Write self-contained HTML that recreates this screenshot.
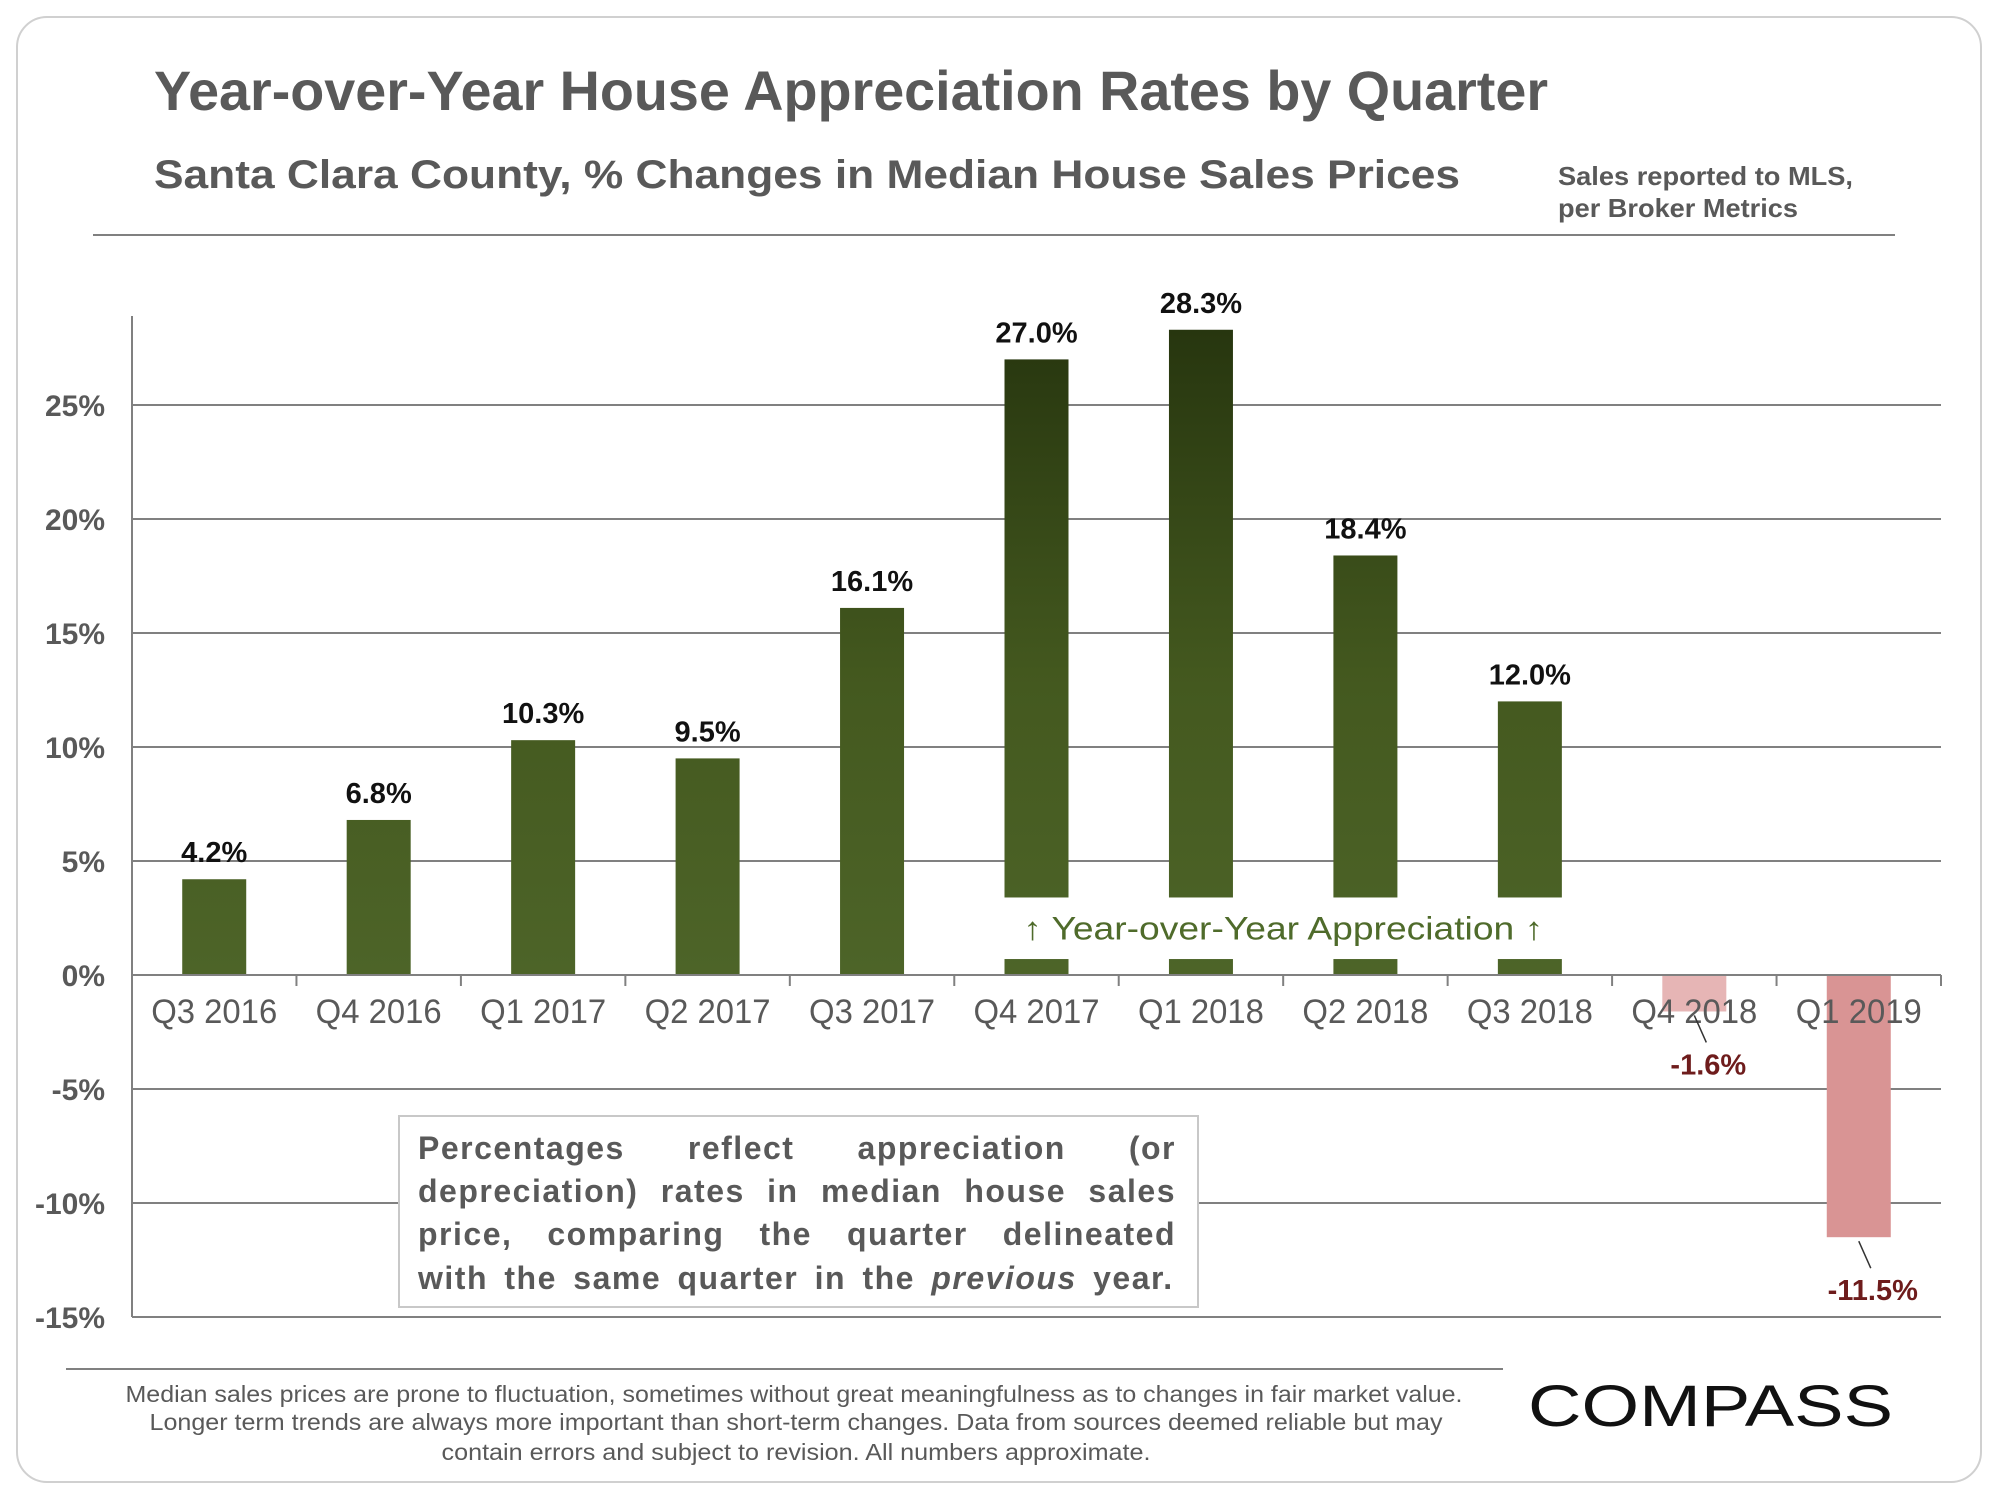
<!DOCTYPE html>
<html><head><meta charset="utf-8"><style>
html,body{margin:0;padding:0;background:#fff;}
svg{display:block;font-family:"Liberation Sans",Arial,sans-serif;}
</style></head><body>
<svg id="chart" width="2000" height="1500" viewBox="0 0 2000 1500">
<defs>
<linearGradient id="greenGrad" gradientUnits="userSpaceOnUse" x1="0" y1="330" x2="0" y2="975">
<stop offset="0" stop-color="#27360f"/>
<stop offset="0.55" stop-color="#44591f"/>
<stop offset="1" stop-color="#4d6428"/>
</linearGradient>
</defs>
<rect x="17" y="17" width="1964" height="1465" rx="30" fill="#fff" stroke="#d0d0d0" stroke-width="2"/>
<text x="154" y="110" font-size="56" font-weight="bold" fill="#595959" textLength="1394" lengthAdjust="spacingAndGlyphs">Year-over-Year House Appreciation Rates by Quarter</text>
<text x="154" y="188" font-size="40" font-weight="bold" fill="#595959" textLength="1306" lengthAdjust="spacingAndGlyphs">Santa Clara County, % Changes in Median House Sales Prices</text>
<text x="1558" y="185" font-size="26" font-weight="bold" fill="#595959" textLength="295" lengthAdjust="spacingAndGlyphs">Sales reported to MLS,</text>
<text x="1558" y="217" font-size="26" font-weight="bold" fill="#595959" textLength="240" lengthAdjust="spacingAndGlyphs">per Broker Metrics</text>
<line x1="93" y1="235" x2="1895" y2="235" stroke="#808080" stroke-width="2"/>
<g id="plot"></g>
<rect x="399" y="1116" width="799" height="191" fill="#fff" stroke="#c8c8c8" stroke-width="2"/>
<g id="note" font-size="32" font-weight="bold" fill="#595959" letter-spacing="1.5">
<text x="418" y="1159" class="just">Percentages reflect appreciation (or</text>
<text x="418" y="1202" class="just">depreciation) rates in median house sales</text>
<text x="418" y="1245" class="just">price, comparing the quarter delineated</text>
<text x="418" y="1289" word-spacing="6">with the same quarter in the <tspan font-style="italic">previous</tspan> year.</text>
</g>
<line x1="66" y1="1369" x2="1503" y2="1369" stroke="#808080" stroke-width="2"/>
<g font-size="23" fill="#595959" text-anchor="middle">
<text x="794" y="1402" textLength="1337" lengthAdjust="spacingAndGlyphs">Median sales prices are prone to fluctuation, sometimes without great meaningfulness as to changes in fair market value.</text>
<text x="796" y="1430" textLength="1293" lengthAdjust="spacingAndGlyphs">Longer term trends are always more important than short-term changes. Data from sources deemed reliable but may</text>
<text x="796" y="1460" textLength="709" lengthAdjust="spacingAndGlyphs">contain errors and subject to revision. All numbers approximate.</text>
</g>
<text x="1528" y="1426" font-size="58" fill="#111" textLength="365" lengthAdjust="spacingAndGlyphs">COMPASS</text>
</svg>
<script>
const categories = ["Q3 2016","Q4 2016","Q1 2017","Q2 2017","Q3 2017","Q4 2017","Q1 2018","Q2 2018","Q3 2018","Q4 2018","Q1 2019"];
const values = [4.2, 6.8, 10.3, 9.5, 16.1, 27.0, 28.3, 18.4, 12.0, -1.6, -11.5];
const valueLabels = ["4.2%","6.8%","10.3%","9.5%","16.1%","27.0%","28.3%","18.4%","12.0%","-1.6%","-11.5%"];
const yTicks = [-15, -10, -5, 0, 5, 10, 15, 20, 25];
const yTickLabels = ["-15%","-10%","-5%","0%","5%","10%","15%","20%","25%"];
const bandCategories = ["Q4 2017","Q1 2018","Q2 2018","Q3 2018"];
const bandLow = 0.7, bandHigh = 3.4;

const NS = "http://www.w3.org/2000/svg";
const plot = document.getElementById("plot");
const X0 = 132, X1 = 1941, ZERO = 975, PER = 22.8;
const step = (X1 - X0) / categories.length;
const barW = 64;
function y(v){ return ZERO - v * PER; }
function xc(i){ return X0 + step * (i + 0.5); }
function mk(tag, attrs){ const e = document.createElementNS(NS, tag); for (const k in attrs) e.setAttribute(k, attrs[k]); plot.appendChild(e); return e; }

yTicks.forEach((t, i) => {
  if (t !== 0) {
    const g = mk("line", {x1: X0, x2: X1, y1: y(t), y2: y(t), stroke: "#808080", "stroke-width": 2});
    
    
  }
  const l = mk("text", {x: 105, y: y(t) + 11, "font-size": 30, "font-weight": "bold", fill: "#595959", "text-anchor": "end"});
  l.textContent = yTickLabels[i];
  
  
});
const ya = mk("line", {x1: X0, x2: X0, y1: 316, y2: y(-15), stroke: "#808080", "stroke-width": 2});



const negColors = ["#e6b5b5", "#d99494"];
let negIdx = 0;
categories.forEach((c, i) => {
  const v = values[i];
  const cx = xc(i);
  let bar;
  if (v >= 0) {
    bar = mk("rect", {x: cx - barW/2, y: y(v), width: barW, height: y(0) - y(v), fill: "url(#greenGrad)"});
  } else {
    bar = mk("rect", {x: cx - barW/2, y: y(0), width: barW, height: y(v) - y(0), fill: negColors[negIdx++ % 2]});
  }
  
  
  if (bandCategories.indexOf(c) >= 0 && v > bandHigh) {
    const b = mk("rect", {x: cx - barW/2 - 2, y: y(bandHigh), width: barW + 4, height: y(bandLow) - y(bandHigh), fill: "#fff"});
    
    
  }
});

const xa = mk("line", {x1: X0, x2: X1, y1: ZERO, y2: ZERO, stroke: "#808080", "stroke-width": 2});


for (let i = 1; i <= categories.length; i++) {
  const tk = mk("line", {x1: X0 + step*i, x2: X0 + step*i, y1: ZERO, y2: ZERO + 11, stroke: "#808080", "stroke-width": 2});
  
  
}

categories.forEach((c, i) => {
  const v = values[i];
  const cx = xc(i);
  const lab = mk("text", {x: cx, y: 1023, "font-size": 34, fill: "#595959", "text-anchor": "middle", textLength: 126, lengthAdjust: "spacingAndGlyphs"});
  lab.textContent = c;
  
  
  let vl;
  if (v >= 0) {
    vl = mk("text", {x: cx, y: y(v) - 17, "font-size": 29, "font-weight": "bold", fill: "#111", "text-anchor": "middle"});
  } else {
    const ly = y(v) + 63;
    const ln = mk("line", {x1: cx, y1: y(v) + 4, x2: cx + 12, y2: ly - 32, stroke: "#333", "stroke-width": 1.5});
    
    
    vl = mk("text", {x: cx + 14, y: ly, "font-size": 29, "font-weight": "bold", fill: "#6e1c1c", "text-anchor": "middle"});
  }
  vl.textContent = valueLabels[i];
  
  
});

const ann = mk("text", {x: (xc(5) + xc(8)) / 2, y: (y(bandLow) + y(bandHigh)) / 2 + 11, "font-size": 32, fill: "#4f6b2b", "text-anchor": "middle", textLength: 520, lengthAdjust: "spacingAndGlyphs"});
ann.textContent = "\u2191 Year-over-Year Appreciation \u2191";



// justify note lines by word spacing
document.querySelectorAll('#note text.just').forEach(t => {
  const w = t.getComputedTextLength();
  const gaps = t.textContent.split(' ').length - 1;
  if (gaps > 0) t.setAttribute('word-spacing', ((758 - w) / gaps).toFixed(2));
});
</script>
</body></html>
